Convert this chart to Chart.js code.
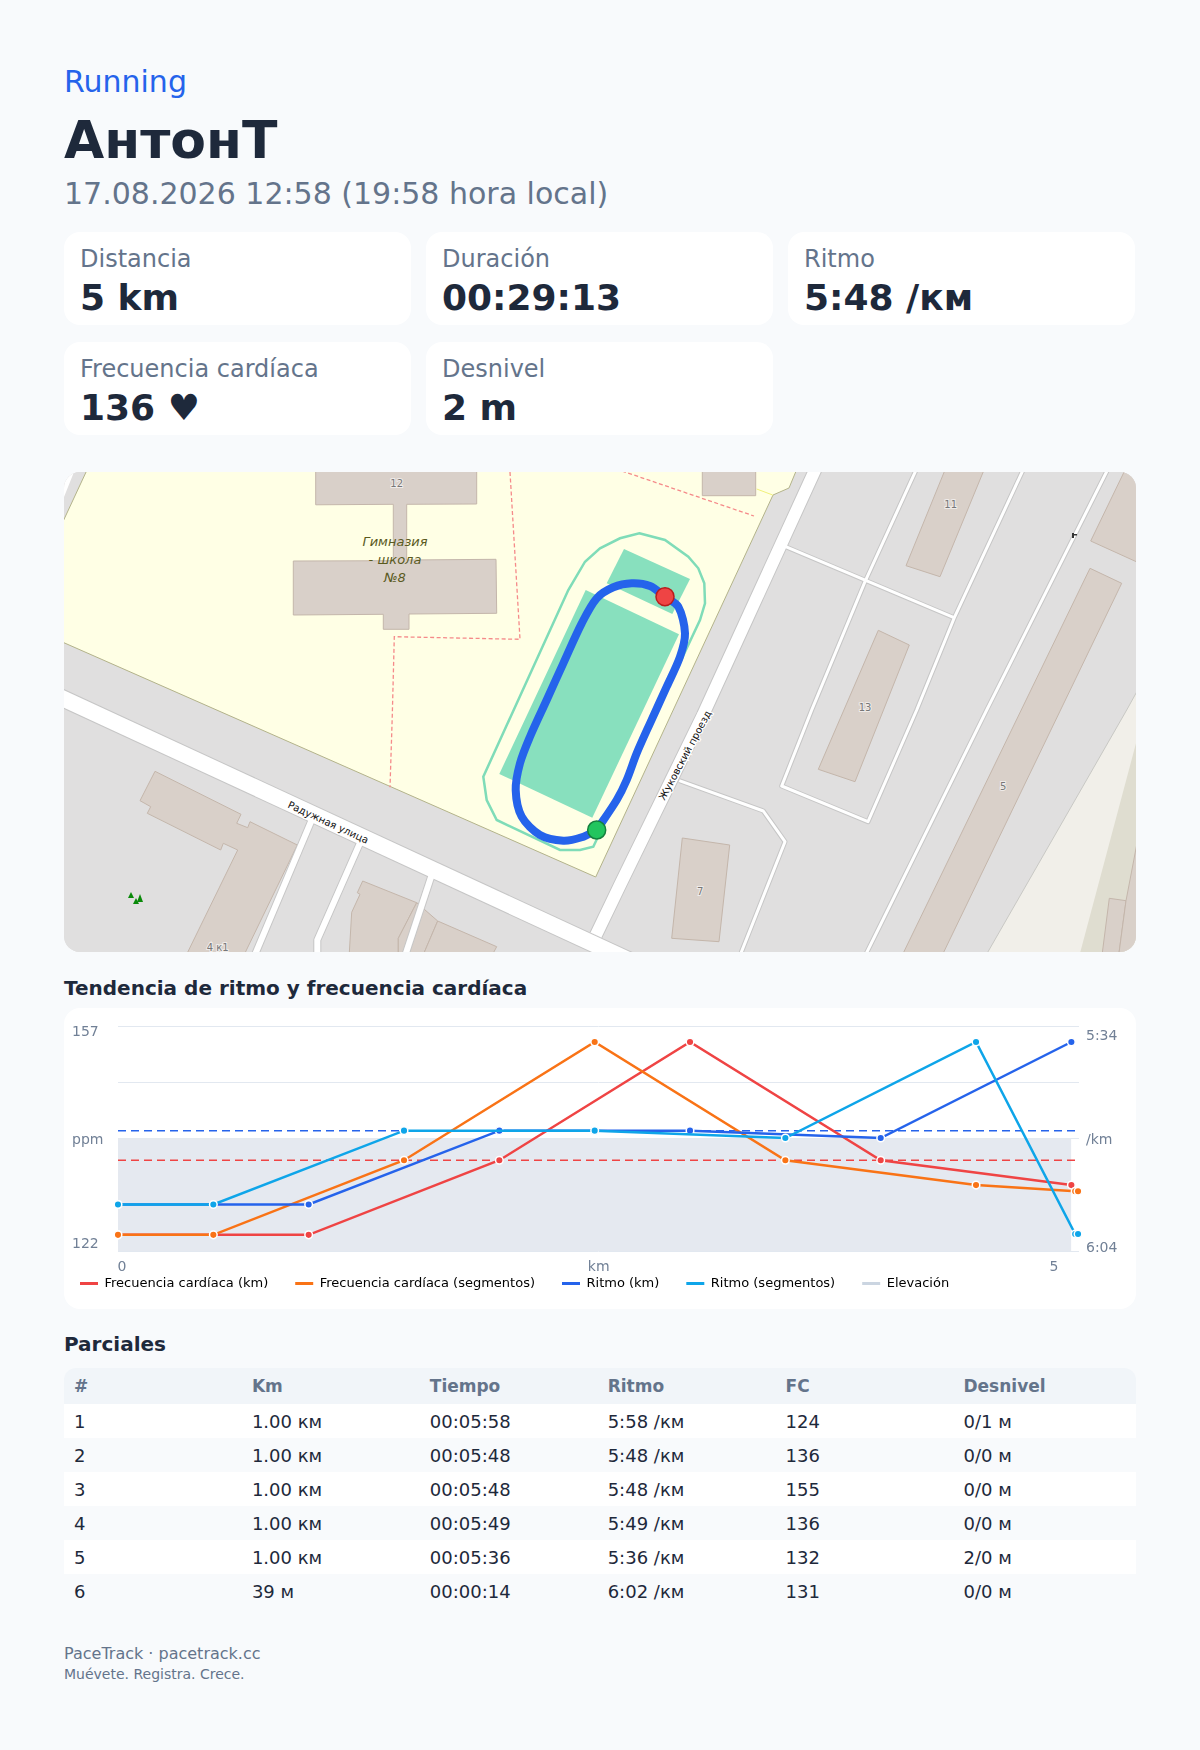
<!DOCTYPE html>
<html lang="es">
<head>
<meta charset="utf-8">
<title>Running</title>
<script src="https://cdn.jsdelivr.net/npm/chart.js@4"></script>
<style>
  * { box-sizing: border-box; }
  html, body { margin: 0; background: #f8fafc; }
  body { position: relative; width: 1200px; height: 1750px; overflow: hidden; font-family: "DejaVu Sans", sans-serif; color: #1e293b; }
  .abs { position: absolute; white-space: nowrap; line-height: 1; }
  .card { position: absolute; width: 347px; height: 93px; background: #fff; border-radius: 16px; }
  .card .lbl { position: absolute; left: 16px; top: 15px; font-size: 24px; line-height: 24px; color: #64748b; white-space: nowrap; }
  .card .val { position: absolute; left: 16px; top: 47px; font-size: 36px; line-height: 38px; font-weight: 700; white-space: nowrap; }
  #map { position: absolute; left: 64px; top: 472px; width: 1072px; height: 480px; border-radius: 16px; overflow: hidden; background: #e0dfdf; }
  #map svg, #routeChart { position: absolute; left: 0; top: 0; }
  #map text { font-family: "DejaVu Sans", sans-serif; }
  .chartCard { position: absolute; left: 64px; top: 1008px; width: 1072px; height: 301px; background: #fff; border-radius: 16px; }
  #trendChart { position: absolute; left: 64px; top: 1008px; }
  table { position: absolute; left: 64px; top: 1368px; width: 1072px; border-collapse: collapse; table-layout: fixed; font-size: 18px; }
  th { height: 36px; padding: 0 0 0 10px; text-align: left; color: #64748b; font-size: 17px; font-weight: 700; background: #f1f5f9; }
  th:not(:last-child) { width: 177.9px; }
  th:first-child { border-top-left-radius: 12px; }
  th:last-child { border-top-right-radius: 12px; }
  td { height: 34px; padding: 1px 0 0 10px; }
  tbody tr:nth-child(odd) td { background: #fff; }
</style>
</head>
<body>
<div class="abs" style="left:64px;top:67px;font-size:30px;color:#2563eb">Running</div>
<div class="abs" style="left:64px;top:114px;font-size:52px;font-weight:700">АнтонТ</div>
<div class="abs" style="left:64px;top:179px;font-size:30px;color:#64748b">17.08.2026 12:58 (19:58 hora local)</div>

<div id="cards"></div>

<div id="map">
<svg width="1072" height="480" viewBox="64 472 1072 480" xmlns="http://www.w3.org/2000/svg">
  <rect x="64" y="472" width="1072" height="480" fill="#e0dfdf"/>
  <polygon points="64,472 74,472 64,497" fill="#fff"/>
  <!-- beige land on the right -->
  <polygon points="985,957 1126.7,710 1140,686 1140,957" fill="#f1efe9" stroke="#c8c8c4" stroke-width="1"/>
  <polygon points="1079,957 1136,743.3 1140,730 1140,957" fill="#dfddd0"/>
  <!-- school grounds -->
  <polygon points="87,470 796.5,470 789,488 773,495 595.7,877 60,641 60,528" fill="#ffffe5" stroke="#b3b38a" stroke-width="1"/>
  <polyline points="756.7,489 772.7,495" fill="none" stroke="#f0f07a" stroke-width="1"/>
  <!-- boundary dashes -->
  <g fill="none" stroke="#f58a8a" stroke-width="1.3" stroke-dasharray="4 2.5">
    <polyline points="510,472 520,639.3 394.3,636.7 392.3,715 390,787.3"/>
    <polyline points="622,471 754,516"/>
  </g>
  <!-- buildings -->
  <g fill="#d9d0c9" stroke="#c4b6ab" stroke-width="1">
    <polygon points="315.7,470 476.7,470 476.7,504 406.7,504.3 406.7,560 496,559.3 496.7,613.3 409,614 409,629.3 383.3,629.3 383.3,614.3 293.3,615 293.3,561 393.3,560.7 393.3,504.3 315.7,504.8"/>
    <polygon points="702.3,470 755.7,470 755.7,495.7 702.3,495.7"/>
    <polygon points="945,470 984,470 940,576.7 906,565.7"/>
    <polygon points="878.3,630.3 909.3,645 855,781.7 818.3,769.3"/>
    <polygon points="1125,470 1138,470 1138,562.5 1090.7,541"/>
    <polygon points="1090,568.3 1121.7,583.3 943.3,953 903.3,953"/>
    <polygon points="682.3,838 729.7,845 719,941.7 671.7,938.3"/>
    <polygon points="155,771.3 241,814.3 236.7,823.3 247.7,827.7 250,821.7 297.3,845 245,953 187.3,953 237.7,850 223.3,843.3 220.7,850 147.3,813.3 150.7,806.7 140,800.7"/>
    <polygon points="362.7,881 416.7,902.7 398.3,938.3 398.3,953 349.3,953 351.7,912.3 360,894.3 357.3,892.7"/>
    <polygon points="416.7,902.7 437.7,921 424,953 398.3,953 398.3,938.3"/>
    <polygon points="437.7,921 496.7,946.7 493.3,953 424,953"/>
    <polygon points="1109.3,898.3 1126,900.7 1119,953 1102.3,953"/>
    <polygon points="1138,838 1126,900.7 1119,953 1138,953"/>
  </g>
  <!-- road casings -->
  <g fill="none" stroke="#c6c6c6" stroke-linejoin="round">
    <polyline stroke-width="18" points="50,692.5 650,970"/>
    <polyline stroke-width="14" points="816,468 703,715 620,885 596,935"/>
    <polyline stroke-width="8" points="311.7,820 254,957"/>
    <polyline stroke-width="8" points="360,843 317.3,940 317.3,956"/>
    <polyline stroke-width="8" points="431.7,875 405,956"/>
    <g stroke-width="5">
      <polyline points="785.7,546.7 954,617.7"/>
      <polyline points="1024,468 954.3,617.7 916.7,710 868,821.7 781.7,786 811.7,710 865,581.7 917,468"/>
      <polyline points="1108.5,468 986.7,710 865,956"/>
      <polyline points="679.3,780.7 763.3,811 785,841.7 741,953"/>
    </g>
  </g>
  <!-- roads -->
  <g fill="none" stroke="#fff" stroke-linejoin="round">
    <polyline stroke-width="16" points="50,692.5 650,970"/>
    <polyline stroke-width="12" points="816,468 703,715 620,885 596,935"/>
    <polyline stroke-width="6" points="311.7,820 254,957"/>
    <polyline stroke-width="6" points="360,843 317.3,940 317.3,956"/>
    <polyline stroke-width="6" points="431.7,875 405,956"/>
    <g stroke-width="3">
      <polyline points="785.7,546.7 954,617.7"/>
      <polyline points="1024,468 954.3,617.7 916.7,710 868,821.7 781.7,786 811.7,710 865,581.7 917,468"/>
      <polyline points="1108.5,468 986.7,710 865,956"/>
      <polyline points="679.3,780.7 763.3,811 785,841.7 741,953"/>
    </g>
  </g>
  <!-- pitch and track -->
  <polygon points="585.7,590 679,634.3 592.3,817.7 499.3,774" fill="#88e0be"/>
  <polygon points="624,549 690,579 672.3,614 606.7,583.3" fill="#88e0be"/>
  <polygon points="639.3,533.3 665,540 688.3,556.7 698.3,568.3 704.3,583.3 705,603.3 700,620 593.3,846.7 580,850 560,850 496.7,820 486.7,800 483.3,776.7 568.3,590 585,561.7 600,548.3 620,538.3" fill="none" stroke="#7fdcb8" stroke-width="2.5"/>
  <!-- small symbols -->
  <g fill="#0a8a0a">
    <polygon points="131,892 134,898 128,898"/><polygon points="136,898 139,904 133,904"/><polygon points="140,894 143,902 137,902"/>
  </g>
  <rect x="1072" y="533" width="2" height="5" fill="#333"/><rect x="1074" y="534" width="3" height="1.5" fill="#333"/>
  <!-- labels -->
  <g font-size="10" fill="#777" text-anchor="middle" stroke="#fff" stroke-opacity="0.6" stroke-width="2" paint-order="stroke">
    <text x="396.7" y="487">12</text><text x="950.7" y="508">11</text><text x="865" y="711">13</text>
    <text x="1003.3" y="790">5</text><text x="700.3" y="895">7</text><text x="217.7" y="951">4 к1</text>
  </g>
  <g font-size="13" font-style="italic" fill="#5a5a1e" text-anchor="middle" style="font-family:'Noto Sans',sans-serif">
    <text x="395" y="545.5">Гимназия</text><text x="395" y="563.5">- школа</text><text x="395" y="581.5">№8</text>
  </g>
  <g font-size="10" fill="#111" text-anchor="middle" stroke="#fff" stroke-width="2.5" paint-order="stroke">
    <text transform="translate(326.7,825.5) rotate(24.8)">Радужная улица</text>
    <text transform="translate(688,757) rotate(-62)">Жуковский проезд</text>
  </g>
</svg>
<canvas id="routeChart" width="1072" height="480"></canvas>
</div>

<div class="abs" style="left:64px;top:978px;font-size:20px;font-weight:700">Tendencia de ritmo y frecuencia cardíaca</div>
<div class="chartCard"></div>
<canvas id="trendChart" width="1072" height="318"></canvas>

<div class="abs" style="left:64px;top:1334px;font-size:20px;font-weight:700">Parciales</div>
<table id="splits"><thead><tr id="splitsHead"></tr></thead><tbody id="splitsBody"></tbody></table>

<div class="abs" style="left:64px;top:1646px;font-size:16px;color:#64748b">PaceTrack · pacetrack.cc</div>
<div class="abs" style="left:64px;top:1667px;font-size:14px;color:#64748b">Muévete. Registra. Crece.</div>

<script>
// summary cards
const cardLabels = ["Distancia", "Duración", "Ritmo", "Frecuencia cardíaca", "Desnivel"];
const cardValues = ["5 km", "00:29:13", "5:48 /км", "136 ♥", "2 m"];
const cardLeft = [64, 426, 788, 64, 426];
const cardTop = [232, 232, 232, 342, 342];

// trend chart
const kmX = [0, 1, 2, 3, 4, 5];
const hrKm = [124, 124, 136, 155, 136, 132];
const paceKm = [358, 358, 348, 348, 349, 336];
const segX = [0, 0.5, 1.5, 2.5, 3.5, 4.5, 5.02, 5.035];
const hrSeg = [124, 124, 136, 155, 136, 132, 131, 131];
const paceSeg = [358, 358, 348, 348, 349, 336, 362, 362];
const elevX = [0, 5];
const elevation = [1, 1];
const avgX = [0, 5.02];
const avgHr = [136, 136];
const avgPace = [348, 348];
const hrTicks = [156.6, 139.2, 122.4];
const hrTickLabels = ["157", "ppm", "122"];
const paceTicks = [335.2, 349.3, 363.9];
const paceTickLabels = ["5:34", "/km", "6:04"];
const gridTicks = [0, 2, 3, 4];
const xTicks = [0.021, 2.521, 4.909];
const xTickLabels = ["0", "km", "5"];
const seriesNames = ["Frecuencia cardíaca (km)", "Frecuencia cardíaca (segmentos)", "Ritmo (km)", "Ritmo (segmentos)", "Elevación"];

// route on the map, in map pixels
const routeX = [532.7, 552.7, 562.7, 572.7, 586, 602.7, 616, 621, 614.3, 601, 586, 567.7, 549.3, 532.7, 517.7, 499.3, 482.7, 466, 456, 451.7, 457.7, 476, 499.3, 517.7, 532.7];
const routeY = [358, 328, 308, 281.3, 251.3, 214.7, 184.7, 161.3, 134.7, 124.7, 114, 111.3, 115.3, 126.3, 151.3, 191.3, 228, 264.7, 291.3, 318, 344.7, 363, 368.7, 365.3, 358];
const startX = [532.7], startY = [358];
const endX = [601], endY = [124.7];

// splits table
const splitHeaders = ["#", "Km", "Tiempo", "Ritmo", "FC", "Desnivel"];
const splitNo = ["1", "2", "3", "4", "5", "6"];
const splitKm = ["1.00 км", "1.00 км", "1.00 км", "1.00 км", "1.00 км", "39 м"];
const splitTime = ["00:05:58", "00:05:48", "00:05:48", "00:05:49", "00:05:36", "00:00:14"];
const splitPace = ["5:58 /км", "5:48 /км", "5:48 /км", "5:49 /км", "5:36 /км", "6:02 /км"];
const splitHr = ["124", "136", "155", "136", "132", "131"];
const splitElev = ["0/1 м", "0/0 м", "0/0 м", "0/0 м", "2/0 м", "0/0 м"];

document.getElementById("cards").innerHTML = cardLabels.map((l, i) =>
  `<div class="card" style="left:${cardLeft[i]}px;top:${cardTop[i]}px"><div class="lbl">${l}</div><div class="val">${cardValues[i]}</div></div>`).join("");

document.getElementById("splitsHead").innerHTML = splitHeaders.map(h => `<th>${h}</th>`).join("");
document.getElementById("splitsBody").innerHTML = splitNo.map((n, i) =>
  `<tr>${[n, splitKm[i], splitTime[i], splitPace[i], splitHr[i], splitElev[i]].map(c => `<td>${c}</td>`).join("")}</tr>`).join("");

Chart.defaults.font.family = '"DejaVu Sans", sans-serif';
Chart.defaults.animation = false;

const zip = (xs, ys) => xs.map((x, i) => ({ x, y: ys[i] }));
const lineSet = (label, xs, ys, color, yAxisID, order) => ({
  label, data: zip(xs, ys), yAxisID, order, clip: false,
  borderColor: color, backgroundColor: color, borderWidth: 2.5, tension: 0,
  pointRadius: 3.8, pointBackgroundColor: color, pointBorderColor: "#fff", pointBorderWidth: 1.5
});
const dashSet = (xs, ys, color, yAxisID, order) => ({
  label: "", data: zip(xs, ys), yAxisID, order, clip: false,
  borderColor: color, borderWidth: 1.5, borderDash: [8, 5], pointRadius: 0
});

// the legend sits in the card under the axis, left aligned
const legendPlace = {
  id: "legendPlace",
  afterLayout(chart) {
    chart.legend.left = 16 - chart.legend.options.labels.padding;
    chart.legend.top = 269 - chart.legend.options.labels.padding;
  }
};

new Chart(document.getElementById("trendChart"), {
  type: "line",
  plugins: [legendPlace],
  data: {
    datasets: [
      lineSet(seriesNames[0], kmX, hrKm, "#ef4444", "y", 4),
      lineSet(seriesNames[1], segX, hrSeg, "#f97316", "y", 3),
      lineSet(seriesNames[2], kmX, paceKm, "#2563eb", "yPace", 2),
      lineSet(seriesNames[3], segX, paceSeg, "#0ea5e9", "yPace", 1),
      { label: seriesNames[4], data: zip(elevX, elevation), yAxisID: "yElev", order: 6, fill: "origin",
        backgroundColor: "#e5e9f0", borderColor: "#cbd5e1", borderWidth: 0, pointRadius: 0 },
      dashSet(avgX, avgHr, "#ef4444", "y", 5),
      dashSet(avgX, avgPace, "#2563eb", "yPace", 5)
    ]
  },
  options: {
    responsive: false,
    layout: { autoPadding: false, padding: { left: 8, top: 18.5, right: 0, bottom: 0 } },
    plugins: {
      tooltip: { enabled: false },
      legend: {
        position: "bottom", align: "start",
        labels: {
          boxWidth: 18, boxHeight: 3, padding: 27, color: "#475569", font: { size: 13 },
          generateLabels(chart) {
            return seriesNames.map((text, i) => ({
              text, datasetIndex: i, lineWidth: 0,
              fillStyle: chart.data.datasets[i].borderColor, strokeStyle: chart.data.datasets[i].borderColor
            }));
          }
        }
      }
    },
    scales: {
      x: {
        type: "linear", min: 0, max: 5.04,
        grid: { display: false, drawTicks: false }, border: { display: false },
        afterBuildTicks(s) { s.ticks = xTicks.map(value => ({ value })); },
        afterFit(s) { s.height = 25; },
        ticks: { autoSkip: false, maxRotation: 0, padding: 8, color: "#718096", font: { size: 14 },
          callback: (v, i) => xTickLabels[i] }
      },
      y: {
        position: "left", min: 121.4, max: 157.5,
        grid: { display: false }, border: { display: false },
        afterBuildTicks(s) { s.ticks = hrTicks.map(value => ({ value })); },
        afterFit(s) { s.width = 46; },
        ticks: { autoSkip: false, crossAlign: "far", color: "#718096", font: { size: 14 },
          callback: (v, i) => hrTickLabels[i] }
      },
      yPace: {
        position: "right", reverse: true, min: 333.9, max: 364.3, weight: 1,
        grid: { display: false, drawTicks: false }, border: { display: false },
        afterBuildTicks(s) { s.ticks = paceTicks.map(value => ({ value })); },
        afterFit(s) { s.width = 57; },
        ticks: { autoSkip: false, padding: 7, color: "#718096", font: { size: 14 },
          callback: (v, i) => paceTickLabels[i] }
      },
      yGrid: {
        position: "right", min: 0, max: 4, weight: -1,
        grid: { color: "#e2e8f0", lineWidth: 1, drawTicks: false }, border: { display: false },
        afterBuildTicks(s) { s.ticks = gridTicks.map(value => ({ value })); },
        afterFit(s) { s.width = 0; },
        ticks: { display: false }
      },
      yElev: { display: false, min: 0, max: 2 }
    }
  }
});

new Chart(document.getElementById("routeChart"), {
  type: "line",
  data: {
    datasets: [
      { data: zip(endX, endY), order: 1, pointRadius: 9, pointBackgroundColor: "#ef4444", pointBorderColor: "#b91c1c", pointBorderWidth: 1.5, showLine: false },
      { data: zip(startX, startY), order: 1, pointRadius: 9, pointBackgroundColor: "#22c55e", pointBorderColor: "#15803d", pointBorderWidth: 1.5, showLine: false },
      { data: zip(routeX, routeY), order: 2, borderColor: "#2563eb", borderWidth: 8, pointRadius: 0, tension: 0.3 }
    ]
  },
  options: {
    responsive: false,
    layout: { autoPadding: false },
    plugins: { legend: { display: false }, tooltip: { enabled: false } },
    scales: {
      x: { type: "linear", display: false, min: 0, max: 1072 },
      y: { display: false, reverse: true, min: 0, max: 480 }
    }
  }
});
</script>
</body>
</html>
